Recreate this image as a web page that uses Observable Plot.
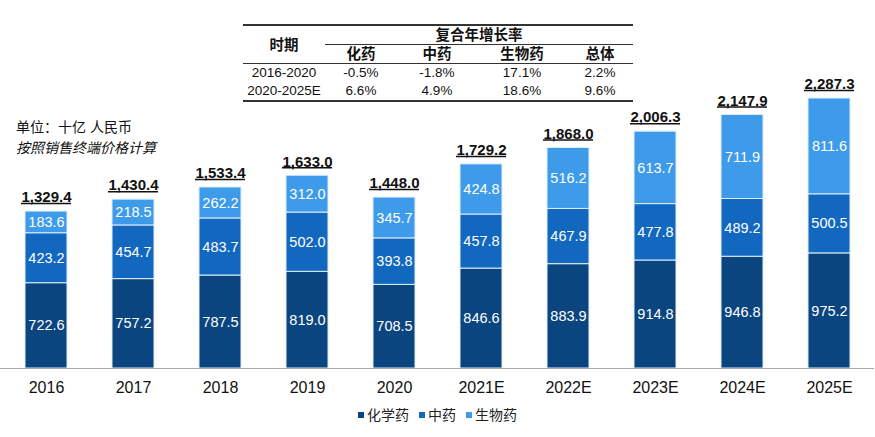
<!DOCTYPE html>
<html>
<head>
<meta charset="utf-8">
<script src="https://cdn.jsdelivr.net/npm/d3@7"></script>
<script src="https://cdn.jsdelivr.net/npm/@observablehq/plot@0.6"></script>
<style>
  body { margin: 0; background: #fff; font-family: "Liberation Sans", Arial, "Noto Sans CJK SC", sans-serif; }
  #wrap { position: relative; width: 875px; height: 437px; overflow: hidden; }
  #unit { position: absolute; left: 16px; top: 117px; font-size: 14px; color: #111; line-height: 21px; }
  #unit .it { font-style: italic; }
  #tbl { position: absolute; left: 243px; top: 24px; width: 390px; border-collapse: collapse; font-size: 13.5px; color: #111; }
  #tbl td, #tbl th { padding: 0; text-align: center; height: 18px; line-height: 18px; }
  #tbl th { font-weight: bold; font-size: 14.5px; }
  #legend { position: absolute; left: 0; top: 404px; width: 875px; display: flex; justify-content: center; gap: 10px; font-size: 14px; color: #222; }
  #legend span.sw { display: inline-block; width: 6px; height: 6px; margin-right: 3px; vertical-align: middle; position: relative; top: -1px; }
  #chart g[aria-label="x-axis tick label"] text { font-size: 16px; }
</style>
</head>
<body>
<div id="wrap">
  <div id="chart"></div>
  <div id="unit"><div>单位：十亿 人民币</div><div class="it">按照销售终端价格计算</div></div>
  <table id="tbl"></table>
  <div id="legend"></div>
</div>
<script>
const years = ["2016","2017","2018","2019","2020","2021E","2022E","2023E","2024E","2025E"];
const chem = [722.6,757.2,787.5,819.0,708.5,846.6,883.9,914.8,946.8,975.2];
const tcm = [423.2,454.7,483.7,502.0,393.8,457.8,467.9,477.8,489.2,500.5];
const bio = [183.6,218.5,262.2,312.0,345.7,424.8,516.2,613.7,711.9,811.6];
const totals = [1329.4,1430.4,1533.4,1633.0,1448.0,1729.2,1868.0,2006.3,2147.9,2287.3];
const seriesNames = ["化学药","中药","生物药"];
const seriesColors = ["#0B4580","#1268BF","#3E9BEA"];

const tableHead = ["时期","复合年增长率"];
const tableCols = ["化药","中药","生物药","总体"];
const tablePeriods = ["2016-2020","2020-2025E"];
const cagr1 = ["-0.5%","-1.8%","17.1%","2.2%"];
const cagr2 = ["6.6%","4.9%","18.6%","9.6%"];

const rows = [];
[chem, tcm, bio].forEach((arr, s) => arr.forEach((v, i) => rows.push({year: years[i], series: seriesNames[s], value: v})));
const tot = years.map((y, i) => ({year: y, total: totals[i]}));

const plot = Plot.plot({
  width: 875,
  height: 400,
  marginLeft: 0,
  marginRight: 1,
  marginTop: 98,
  marginBottom: 32,
  style: {fontFamily: '"Liberation Sans", Arial, "Noto Sans CJK SC", sans-serif', background: "transparent"},
  x: {domain: years, paddingInner: 0.52, paddingOuter: 0.26, label: null, axis: null},
  y: {domain: [0, 2287.3], axis: null},
  color: {domain: seriesNames, range: seriesColors},
  marks: [
    Plot.barY(rows, Plot.stackY({x: "year", y: "value", fill: "series", z: "series", stroke: "#dfeefc", strokeWidth: 1, order: seriesNames})),
    Plot.text(rows, Plot.stackY({x: "year", y: "value", z: "series", order: seriesNames, text: d => d.value.toFixed(1), fill: "white", fontSize: 14.5})),
    Plot.text(tot, {x: "year", y: "total", text: d => d3.format(",.1f")(d.total), dy: -14, fontSize: 15, fontWeight: "bold", fill: "#111"}),
    Plot.tickY(tot, {x: "year", y: "total", dy: -8, insetLeft: -4, insetRight: -4, stroke: "#111", strokeWidth: 1.5}),
    Plot.ruleY([0], {stroke: "#aaa", strokeWidth: 1.2}),
    Plot.axisX({tickSize: 0, tickPadding: 13, fontSize: 16, fill: "#111", label: null, ariaLabel: "x-axis tick label"})
  ]
});
document.getElementById("chart").appendChild(plot);

// table
const tbl = document.getElementById("tbl");
const bTop = "border-top:2px solid #333;";
const bBot = "border-bottom:2px solid #333;";
let html = `<tr><th rowspan="2" style="${bTop}border-bottom:1px solid #333;width:82px">${tableHead[0]}</th><th colspan="4" style="${bTop}border-bottom:1.5px solid #333">${tableHead[1]}</th></tr>`;
html += `<tr>${tableCols.map(c => `<th style="border-bottom:1px solid #333">${c}</th>`).join("")}</tr>`;
html += `<tr><td>${tablePeriods[0]}</td>${cagr1.map(v => `<td>${v}</td>`).join("")}</tr>`;
html += `<tr><td style="${bBot}">${tablePeriods[1]}</td>${cagr2.map(v => `<td style="${bBot}">${v}</td>`).join("")}</tr>`;
tbl.innerHTML = html;
tbl.querySelectorAll("tr")[1].querySelectorAll("th").forEach((th, i) => th.style.width = ["72px","80px","90px","66px"][i]);

// legend
document.getElementById("legend").innerHTML = seriesNames.map((n, i) => `<span><span class="sw" style="background:${seriesColors[i]}"></span>${n}</span>`).join("");
</script>
</body>
</html>
